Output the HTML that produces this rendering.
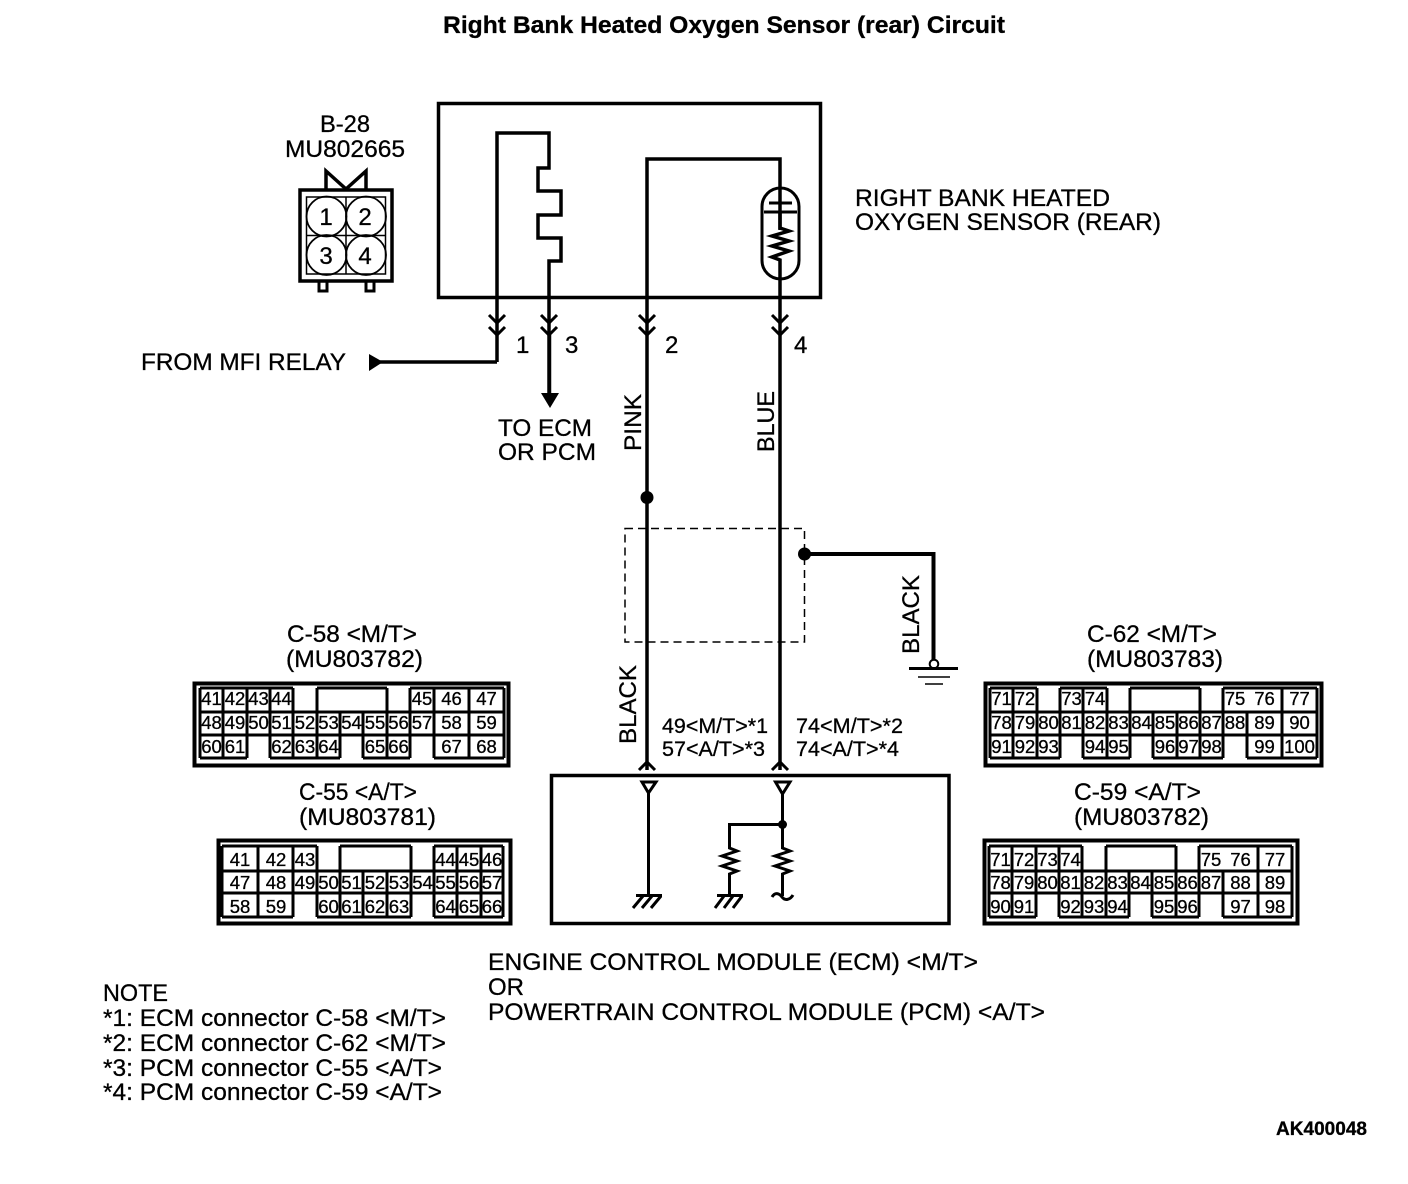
<!DOCTYPE html>
<html><head><meta charset="utf-8"><style>
html,body{margin:0;padding:0;background:#fff}
svg{display:block}
text{font-family:"Liberation Sans",sans-serif;fill:#000;stroke:#000;stroke-width:.3}
.l{font-size:24px}
.n{font-size:18.5px;text-anchor:middle}
.w{fill:none;stroke:#000;stroke-width:3.5}
.t{fill:none;stroke:#000;stroke-width:3}
</style></head><body>
<svg width="1408" height="1184" viewBox="0 0 1408 1184" xmlns="http://www.w3.org/2000/svg">
<rect width="1408" height="1184" fill="#fff"/>
<text x="443" y="33" font-size="24" font-weight="bold" textLength="562" lengthAdjust="spacingAndGlyphs">Right Bank Heated Oxygen Sensor (rear) Circuit</text>

<!-- B-28 connector -->
<text class="l" x="320" y="132" textLength="50" lengthAdjust="spacingAndGlyphs">B-28</text>
<text class="l" x="285" y="157" textLength="120" lengthAdjust="spacingAndGlyphs">MU802665</text>
<path class="w" d="M326 189V171L346 189L366 171V189"/>
<rect x="300" y="190" width="92" height="91" fill="none" stroke="#000" stroke-width="3.5"/>
<rect x="306.5" y="197" width="79" height="77" fill="none" stroke="#000" stroke-width="1.5"/>
<path d="M346 197V274M306 235.5H386" stroke="#000" stroke-width="1.5" fill="none"/>
<circle cx="326.5" cy="216.5" r="20" fill="none" stroke="#000" stroke-width="1.8"/>
<circle cx="366" cy="216.5" r="20" fill="none" stroke="#000" stroke-width="1.8"/>
<circle cx="326.5" cy="255" r="20" fill="none" stroke="#000" stroke-width="1.8"/>
<circle cx="366" cy="255" r="20" fill="none" stroke="#000" stroke-width="1.8"/>
<text class="n" style="font-size:24px" x="326" y="225">1</text>
<text class="n" style="font-size:24px" x="365" y="225">2</text>
<text class="n" style="font-size:24px" x="326" y="264">3</text>
<text class="n" style="font-size:24px" x="365" y="264">4</text>
<path class="t" d="M319 282V291H327V282M366 282V291H374V282"/>

<!-- sensor -->
<rect x="438.5" y="103.5" width="382" height="194" fill="none" stroke="#000" stroke-width="3.5"/>
<path class="w" d="M497 362V133H549V168H538V191H561V215H538V238H561V261H549V395"/>
<path class="w" d="M647 770V159H780V230"/>
<rect x="762" y="188" width="37" height="91" rx="18.5" fill="none" stroke="#000" stroke-width="3"/>
<path d="M769 203H792M764 212H797" stroke="#000" stroke-width="3" fill="none"/>
<path class="w" d="M780 212V228L789 231L772 236L789 241L772 246L789 251L772 257L780 260V770"/>
<text class="l" x="855" y="206" textLength="255" lengthAdjust="spacingAndGlyphs">RIGHT BANK HEATED</text>
<text class="l" x="855" y="230" textLength="306" lengthAdjust="spacingAndGlyphs">OXYGEN SENSOR (REAR)</text>

<!-- chevrons -->
<path class="t" d="M489 315L497 323L505 315M489 327L497 335L505 327M541 315L549 323L557 315M541 327L549 335L557 327M639 315L647 323L655 315M639 327L647 335L655 327M772 315L780 323L788 315M772 327L780 335L788 327"/>
<path class="t" d="M639 770L647 762L655 770M772 770L780 762L788 770"/>
<text class="l" x="516" y="353">1</text><text class="l" x="565" y="353">3</text>
<text class="l" x="665" y="353">2</text><text class="l" x="794" y="353">4</text>
<text class="l" x="141" y="370" textLength="205" lengthAdjust="spacingAndGlyphs">FROM MFI RELAY</text>
<path class="w" d="M380 362H497"/>
<path d="M369 354L383 362L369 371Z" fill="#000"/>
<path d="M541 393H559L550 408Z" fill="#000"/>
<path class="w" d="M549.5 335V395"/>
<text class="l" x="498" y="436" textLength="94" lengthAdjust="spacingAndGlyphs">TO ECM</text>
<text class="l" x="498" y="460" textLength="98" lengthAdjust="spacingAndGlyphs">OR PCM</text>
<text class="l" transform="translate(641 451) rotate(-90)" textLength="57" lengthAdjust="spacingAndGlyphs">PINK</text>
<text class="l" transform="translate(774 452) rotate(-90)" textLength="61" lengthAdjust="spacingAndGlyphs">BLUE</text>
<text class="l" transform="translate(636 744) rotate(-90)" textLength="79" lengthAdjust="spacingAndGlyphs">BLACK</text>
<text class="l" transform="translate(919 654) rotate(-90)" textLength="79" lengthAdjust="spacingAndGlyphs">BLACK</text>

<!-- shield -->
<circle cx="647" cy="497.5" r="6.5" fill="#000"/>
<rect x="625" y="528.5" width="179.5" height="113.5" fill="none" stroke="#000" stroke-width="1.5" stroke-dasharray="8 5"/>
<circle cx="804.5" cy="554" r="6.5" fill="#000"/>
<path class="w" style="stroke-width:4" d="M805 554H933.5V660"/>
<circle cx="934" cy="664" r="4.3" fill="#fff" stroke="#000" stroke-width="2"/>
<path d="M909 668.5H958" stroke="#000" stroke-width="3"/>
<path d="M918 677H950M925 684H943" stroke="#000" stroke-width="1.5"/>

<!-- ECM -->
<rect x="551.5" y="775.5" width="397.5" height="148" fill="none" stroke="#000" stroke-width="3.5"/>
<text class="l" style="font-size:21px" x="662" y="733" textLength="106" lengthAdjust="spacingAndGlyphs">49&lt;M/T&gt;*1</text>
<text class="l" style="font-size:21px" x="662" y="756" textLength="103" lengthAdjust="spacingAndGlyphs">57&lt;A/T&gt;*3</text>
<text class="l" style="font-size:21px" x="796" y="733" textLength="107" lengthAdjust="spacingAndGlyphs">74&lt;M/T&gt;*2</text>
<text class="l" style="font-size:21px" x="796" y="756" textLength="103" lengthAdjust="spacingAndGlyphs">74&lt;A/T&gt;*4</text>
<path class="t" d="M642 782H656L648.5 793ZM775.5 782H790L782.5 794Z"/>
<path class="t" d="M648.5 793V895M636 895.5H662M643 896L633 908M652 896L642 908M661 896L651 908"/>
<path class="t" d="M782.5 794V848L790 851L775 856L790 861L775 866L790 871L782.5 874V896M772 897C775 892 779 893 782 897C785 901 790 900 793 895"/>
<path class="t" d="M782 824.5H729.5V848L737 851L722 856L737 861L722 866L737 871L729.5 874V895M717 895.5H743M724 896L715 908M733 896L724 908M742 896L733 908"/>
<circle cx="782.5" cy="824.5" r="4.5" fill="#000"/>
<text class="l" x="488" y="970" textLength="490" lengthAdjust="spacingAndGlyphs">ENGINE CONTROL MODULE (ECM) &lt;M/T&gt;</text>
<text class="l" x="488" y="995" textLength="36" lengthAdjust="spacingAndGlyphs">OR</text>
<text class="l" x="488" y="1020" textLength="557" lengthAdjust="spacingAndGlyphs">POWERTRAIN CONTROL MODULE (PCM) &lt;A/T&gt;</text>
<text class="l" x="103" y="1001" textLength="65" lengthAdjust="spacingAndGlyphs">NOTE</text>
<text class="l" x="103" y="1026" textLength="343" lengthAdjust="spacingAndGlyphs">*1: ECM connector C-58 &lt;M/T&gt;</text>
<text class="l" x="103" y="1051" textLength="343" lengthAdjust="spacingAndGlyphs">*2: ECM connector C-62 &lt;M/T&gt;</text>
<text class="l" x="103" y="1076" textLength="339" lengthAdjust="spacingAndGlyphs">*3: PCM connector C-55 &lt;A/T&gt;</text>
<text class="l" x="103" y="1100" textLength="339" lengthAdjust="spacingAndGlyphs">*4: PCM connector C-59 &lt;A/T&gt;</text>
<text x="1276" y="1135" font-size="19" font-weight="bold" textLength="91" lengthAdjust="spacingAndGlyphs">AK400048</text>

<!-- C-58 -->
<text class="l" x="287" y="642" textLength="130" lengthAdjust="spacingAndGlyphs">C-58 &lt;M/T&gt;</text>
<text class="l" x="286" y="667" textLength="137" lengthAdjust="spacingAndGlyphs">(MU803782)</text>
<rect x="194.5" y="683.5" width="314" height="82" fill="none" stroke="#000" stroke-width="4"/>
<path class="t" d="M200 688H293M317 688H387M410 688H504M200 712H504M200 735H504M200 758H247M270 758H340M363 758H410M434 758H504
M200 688V712M223 688V712M247 688V712M270 688V712M293 688V712M317 688V712M387 688V712M410 688V712M434 688V712M469 688V712M504 688V712
M200 712V758M223 712V758M247 712V758M270 712V758M293 712V758M317 712V758M340 712V758M363 712V758M387 712V758M410 712V758M434 712V758M469 712V758M504 712V758"/>
<path d="M249 737H268.500V757H249ZM342 737H361.500V757H342ZM412 737H432.500V757H412Z" fill="#fff"/>
<text class="n" x="211.500" y="705">41</text><text class="n" x="235" y="705">42</text><text class="n" x="258.500" y="705">43</text><text class="n" x="281.500" y="705">44</text><text class="n" x="422" y="705">45</text><text class="n" x="451.500" y="705">46</text><text class="n" x="486.500" y="705">47</text>
<text class="n" x="211.500" y="729">48</text><text class="n" x="235" y="729">49</text><text class="n" x="258.500" y="729">50</text><text class="n" x="281.500" y="729">51</text><text class="n" x="305" y="729">52</text><text class="n" x="328.500" y="729">53</text><text class="n" x="351.500" y="729">54</text><text class="n" x="375" y="729">55</text><text class="n" x="398.500" y="729">56</text><text class="n" x="422" y="729">57</text><text class="n" x="451.500" y="729">58</text><text class="n" x="486.500" y="729">59</text>
<text class="n" x="211.500" y="753">60</text><text class="n" x="235" y="753">61</text><text class="n" x="281.500" y="753">62</text><text class="n" x="305" y="753">63</text><text class="n" x="328.500" y="753">64</text><text class="n" x="375" y="753">65</text><text class="n" x="398.500" y="753">66</text><text class="n" x="451.500" y="753">67</text><text class="n" x="486.500" y="753">68</text>

<!-- C-55 -->
<text class="l" x="299" y="800" textLength="118" lengthAdjust="spacingAndGlyphs">C-55 &lt;A/T&gt;</text>
<text class="l" x="299" y="825" textLength="137" lengthAdjust="spacingAndGlyphs">(MU803781)</text>
<rect x="218.500" y="840.500" width="292" height="83" fill="none" stroke="#000" stroke-width="4"/>
<path class="t" d="M222 846H317M340 846H411M434 846H503M222 871H503M222 893H503M222 917H293M317 917H411M434 917H503
M222 846V917M258 846V917M293 846V917M317 846V917M340 846V871M411 846V871M434 846V917M457 846V917M481 846V917M503 846V917
M340 871V917M363 871V917M387 871V917M411 871V917"/>
<path d="M295 895H315V916H295ZM413 895H432.500V916H413Z" fill="#fff"/>
<text class="n" x="240" y="866">41</text><text class="n" x="276" y="866">42</text><text class="n" x="305" y="866">43</text><text class="n" x="445.500" y="866">44</text><text class="n" x="469" y="866">45</text><text class="n" x="492" y="866">46</text>
<text class="n" x="240" y="889">47</text><text class="n" x="276" y="889">48</text><text class="n" x="305" y="889">49</text><text class="n" x="328.500" y="889">50</text><text class="n" x="351.500" y="889">51</text><text class="n" x="375" y="889">52</text><text class="n" x="399" y="889">53</text><text class="n" x="422.500" y="889">54</text><text class="n" x="445.500" y="889">55</text><text class="n" x="469" y="889">56</text><text class="n" x="492" y="889">57</text>
<text class="n" x="240" y="913">58</text><text class="n" x="276" y="913">59</text><text class="n" x="328.500" y="913">60</text><text class="n" x="351.500" y="913">61</text><text class="n" x="375" y="913">62</text><text class="n" x="399" y="913">63</text><text class="n" x="445.500" y="913">64</text><text class="n" x="469" y="913">65</text><text class="n" x="492" y="913">66</text>

<!-- C-62 -->
<text class="l" x="1087" y="642" textLength="130" lengthAdjust="spacingAndGlyphs">C-62 &lt;M/T&gt;</text>
<text class="l" x="1087" y="667" textLength="136" lengthAdjust="spacingAndGlyphs">(MU803783)</text>
<rect x="985.500" y="683.500" width="336" height="82" fill="none" stroke="#000" stroke-width="4"/>
<path class="t" d="M990 688H1037M1060 688H1107M1130 688H1200M1223 688H1317M990 712H1317M990 735H1317M990 758H1060M1083 758H1130M1153 758H1223M1247 758H1317
M990 688V758M1013 688V758M1037 688V758M1060 688V758M1083 688V758M1107 688V758M1130 688V758M1200 688V758M1223 688V758M1282 688V758M1317 688V758
M1153 712V758M1177 712V758M1247 712V758"/>
<path d="M1062 737H1081.500V757H1062ZM1132 737H1151.500V757H1132ZM1225 737H1245.500V757H1225Z" fill="#fff"/>
<text class="n" x="1001.500" y="705">71</text><text class="n" x="1025" y="705">72</text><text class="n" x="1071.500" y="705">73</text><text class="n" x="1095" y="705">74</text><text class="n" x="1235" y="705">75</text><text class="n" x="1264.500" y="705">76</text><text class="n" x="1299.500" y="705">77</text>
<text class="n" x="1001.500" y="729">78</text><text class="n" x="1025" y="729">79</text><text class="n" x="1048.500" y="729">80</text><text class="n" x="1071.500" y="729">81</text><text class="n" x="1095" y="729">82</text><text class="n" x="1118.500" y="729">83</text><text class="n" x="1141.500" y="729">84</text><text class="n" x="1165" y="729">85</text><text class="n" x="1188.500" y="729">86</text><text class="n" x="1211.500" y="729">87</text><text class="n" x="1235" y="729">88</text><text class="n" x="1264.500" y="729">89</text><text class="n" x="1299.500" y="729">90</text>
<text class="n" x="1001.500" y="753">91</text><text class="n" x="1025" y="753">92</text><text class="n" x="1048.500" y="753">93</text><text class="n" x="1095" y="753">94</text><text class="n" x="1118.500" y="753">95</text><text class="n" x="1165" y="753">96</text><text class="n" x="1188.500" y="753">97</text><text class="n" x="1211.500" y="753">98</text><text class="n" x="1264.500" y="753">99</text><text class="n" x="1299.500" y="753">100</text>

<!-- C-59 -->
<text class="l" x="1074" y="800" textLength="127" lengthAdjust="spacingAndGlyphs">C-59 &lt;A/T&gt;</text>
<text class="l" x="1074" y="825" textLength="135" lengthAdjust="spacingAndGlyphs">(MU803782)</text>
<rect x="984.500" y="840.500" width="313" height="83" fill="none" stroke="#000" stroke-width="4"/>
<path class="t" d="M989 846H1082M1106 846H1176M1199 846H1292M989 871H1292M989 893H1292M989 917H1036M1059 917H1129M1152 917H1199M1223 917H1292
M989 846V917M1012 846V917M1036 846V917M1059 846V917M1082 846V917M1106 846V917M1129 871V917M1152 871V917M1176 846V917M1199 846V917M1223 871V917M1258 846V917M1292 846V917"/>
<path d="M1038 895H1057.500V916H1038ZM1131 895H1150.500V916H1131ZM1201 895H1221.500V916H1201Z" fill="#fff"/>
<text class="n" x="1000.500" y="866">71</text><text class="n" x="1024" y="866">72</text><text class="n" x="1047.500" y="866">73</text><text class="n" x="1070.500" y="866">74</text><text class="n" x="1211" y="866">75</text><text class="n" x="1240.500" y="866">76</text><text class="n" x="1275" y="866">77</text>
<text class="n" x="1000.500" y="889">78</text><text class="n" x="1024" y="889">79</text><text class="n" x="1047.500" y="889">80</text><text class="n" x="1070.500" y="889">81</text><text class="n" x="1094" y="889">82</text><text class="n" x="1117.500" y="889">83</text><text class="n" x="1140.500" y="889">84</text><text class="n" x="1164" y="889">85</text><text class="n" x="1187.500" y="889">86</text><text class="n" x="1211" y="889">87</text><text class="n" x="1240.500" y="889">88</text><text class="n" x="1275" y="889">89</text>
<text class="n" x="1000.500" y="913">90</text><text class="n" x="1024" y="913">91</text><text class="n" x="1070.500" y="913">92</text><text class="n" x="1094" y="913">93</text><text class="n" x="1117.500" y="913">94</text><text class="n" x="1164" y="913">95</text><text class="n" x="1187.500" y="913">96</text><text class="n" x="1240.500" y="913">97</text><text class="n" x="1275" y="913">98</text>
</svg>
</body></html>
